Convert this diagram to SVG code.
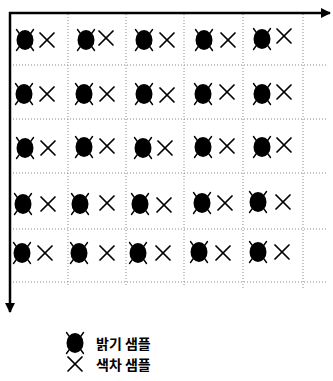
<svg xmlns="http://www.w3.org/2000/svg" xmlns:xlink="http://www.w3.org/1999/xlink" width="333" height="381" viewBox="0 0 333 381">
<style>
.grid{stroke:#8a8a8a;stroke-width:1;stroke-dasharray:1 2;fill:none}
.axis{stroke:#000;stroke-width:2.5;fill:none}
.x{stroke:#000;stroke-width:1.7;stroke-linecap:round}
.legend{font-family:"Noto Sans CJK KR","Noto Sans",sans-serif;font-weight:bold;font-size:14px;fill:#000}
</style>
<defs>
<marker id="arr" viewBox="0 0 10 10" refX="9" refY="5" markerWidth="4" markerHeight="4" orient="auto" markerUnits="strokeWidth">
<path d="M0,0 L10,5 L0,10 z" fill="#000"/>
</marker>
<g id="luma">
<ellipse cx="0" cy="0" rx="8.5" ry="10" fill="#000"/>
<g stroke="#000" stroke-width="1.4" stroke-linecap="round">
<line x1="-6" y1="-7" x2="-8.5" y2="-10.5"/>
<line x1="6" y1="-7" x2="8.5" y2="-10.5"/>
<line x1="-6" y1="7" x2="-8.5" y2="10.5"/>
<line x1="6" y1="7" x2="8.5" y2="10.5"/>
</g>
</g>
<g id="chroma" class="x">
<line x1="-7" y1="-7" x2="7" y2="7"/>
<line x1="7" y1="-7" x2="-7" y2="7"/>
</g>
</defs>
<rect width="333" height="381" fill="#fff"/>
<g id="grid">
<line class="grid" x1="68" y1="14" x2="68" y2="285"/>
<line class="grid" x1="126" y1="14" x2="126" y2="285"/>
<line class="grid" x1="184" y1="14" x2="184" y2="285"/>
<line class="grid" x1="243" y1="14" x2="243" y2="288"/>
<line class="grid" x1="303" y1="14" x2="303" y2="288"/>
<line class="grid" x1="10" y1="65" x2="328" y2="65"/>
<line class="grid" x1="10" y1="119" x2="328" y2="119"/>
<line class="grid" x1="10" y1="173" x2="328" y2="173"/>
<line class="grid" x1="10" y1="229" x2="328" y2="229"/>
<line class="grid" x1="10" y1="282" x2="328" y2="282"/>
</g>
<g id="connectors">
<line class="axis" x1="9" y1="13" x2="330" y2="13" marker-end="url(#arr)"/>
<line class="axis" x1="10" y1="12" x2="10" y2="312" marker-end="url(#arr)"/>
</g>
<g id="samples">
<g id="row1">
<use xlink:href="#luma" x="25" y="40"/><use xlink:href="#chroma" x="47" y="40"/>
<use xlink:href="#luma" x="86" y="40"/><use xlink:href="#chroma" x="106" y="38"/>
<use xlink:href="#luma" x="144" y="40"/><use xlink:href="#chroma" x="167" y="40"/>
<use xlink:href="#luma" x="204" y="40"/><use xlink:href="#chroma" x="228" y="40"/>
<use xlink:href="#luma" x="262" y="39"/><use xlink:href="#chroma" x="284" y="36"/>
</g>
<g id="row2">
<use xlink:href="#luma" x="24" y="94"/><use xlink:href="#chroma" x="47" y="94"/>
<use xlink:href="#luma" x="84" y="94"/><use xlink:href="#chroma" x="107" y="94"/>
<use xlink:href="#luma" x="144" y="94"/><use xlink:href="#chroma" x="167" y="95"/>
<use xlink:href="#luma" x="203" y="94"/><use xlink:href="#chroma" x="227" y="92"/>
<use xlink:href="#luma" x="262" y="94"/><use xlink:href="#chroma" x="284" y="92"/>
</g>
<g id="row3">
<use xlink:href="#luma" x="25" y="148"/><use xlink:href="#chroma" x="48" y="148"/>
<use xlink:href="#luma" x="84" y="147"/><use xlink:href="#chroma" x="107" y="146"/>
<use xlink:href="#luma" x="143" y="148"/><use xlink:href="#chroma" x="165" y="148"/>
<use xlink:href="#luma" x="203" y="147"/><use xlink:href="#chroma" x="227" y="146"/>
<use xlink:href="#luma" x="262" y="147"/><use xlink:href="#chroma" x="284" y="145"/>
</g>
<g id="row4">
<use xlink:href="#luma" x="23" y="204"/><use xlink:href="#chroma" x="48" y="204"/>
<use xlink:href="#luma" x="80" y="204"/><use xlink:href="#chroma" x="107" y="203"/>
<use xlink:href="#luma" x="140" y="204"/><use xlink:href="#chroma" x="164" y="205"/>
<use xlink:href="#luma" x="202" y="203"/><use xlink:href="#chroma" x="225" y="203"/>
<use xlink:href="#luma" x="258" y="202"/><use xlink:href="#chroma" x="283" y="202"/>
</g>
<g id="row5">
<use xlink:href="#luma" x="22" y="253"/><use xlink:href="#chroma" x="45" y="253"/>
<use xlink:href="#luma" x="79" y="253"/><use xlink:href="#chroma" x="107" y="253"/>
<use xlink:href="#luma" x="138" y="253"/><use xlink:href="#chroma" x="163" y="253"/>
<use xlink:href="#luma" x="199" y="252"/><use xlink:href="#chroma" x="223" y="253"/>
<use xlink:href="#luma" x="258" y="252"/><use xlink:href="#chroma" x="282" y="252"/>
</g>
</g>
<g id="legend">
<use xlink:href="#luma" x="75" y="343"/>
<text class="legend" x="96" y="349">밝기 샘플</text>
<use xlink:href="#chroma" x="75" y="364"/>
<text class="legend" x="96" y="370">색차 샘플</text>
</g>
</svg>
